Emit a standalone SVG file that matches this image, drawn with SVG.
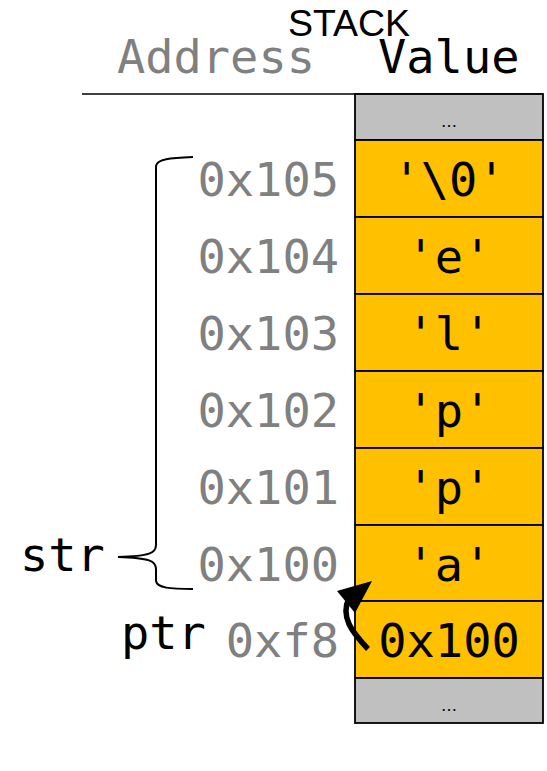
<svg xmlns="http://www.w3.org/2000/svg" width="547" height="771" viewBox="0 0 547 771">
<style>
.cell{fill:#ffc000;stroke:#000;stroke-width:1.8}
.gray{fill:#c0c0c0;stroke:#000;stroke-width:1.8}
.mono{font-family:"DejaVu Sans Mono",monospace;font-size:47px}
.addr{fill:#808080;text-anchor:end}
.val{fill:#000;text-anchor:middle}
.dots{font-family:"DejaVu Sans",sans-serif;font-size:16px;text-anchor:middle}
.conn{fill:none;stroke:#000}
</style>
<rect width="547" height="771" fill="#fff"/>
<g id="header">
<text x="349" y="36" font-family="Liberation Sans,Arial,sans-serif" font-size="37.5" text-anchor="middle">STACK</text>
<text class="mono addr" x="315" y="73">Address</text>
<text class="mono" x="378" y="73" fill="#000">Value</text>
<line x1="82" y1="94" x2="543" y2="94" stroke="#000" stroke-width="1.5"/>
</g>
<g id="top-gap"><rect class="gray" x="355" y="94" width="188" height="46"/><text class="dots" x="449" y="127">…</text></g>
<g id="row-0x105"><rect class="cell" x="355" y="140" width="188" height="77"/><text class="mono addr" x="339" y="196">0x105</text><text class="mono val" x="449" y="196">'\0'</text></g>
<g id="row-0x104"><rect class="cell" x="355" y="217" width="188" height="77"/><text class="mono addr" x="339" y="273">0x104</text><text class="mono val" x="449" y="273">'e'</text></g>
<g id="row-0x103"><rect class="cell" x="355" y="294" width="188" height="77"/><text class="mono addr" x="339" y="350">0x103</text><text class="mono val" x="449" y="350">'l'</text></g>
<g id="row-0x102"><rect class="cell" x="355" y="371" width="188" height="77"/><text class="mono addr" x="339" y="427">0x102</text><text class="mono val" x="449" y="427">'p'</text></g>
<g id="row-0x101"><rect class="cell" x="355" y="448" width="188" height="77"/><text class="mono addr" x="339" y="504">0x101</text><text class="mono val" x="449" y="504">'p'</text></g>
<g id="row-0x100"><rect class="cell" x="355" y="525" width="188" height="76"/><text class="mono addr" x="339" y="581">0x100</text><text class="mono val" x="449" y="581">'a'</text></g>
<g id="row-0xf8"><rect class="cell" x="355" y="601" width="188" height="77"/><text class="mono addr" x="339" y="657">0xf8</text><text class="mono val" x="449" y="657">0x100</text></g>
<g id="bottom-gap"><rect class="gray" x="355" y="678" width="188" height="45"/><text class="dots" x="449" y="711">…</text></g>
<g id="str-label"><text class="mono" x="20" y="571">str</text></g>
<g id="ptr-label"><text class="mono" x="121" y="649">ptr</text></g>
<g id="connectors">
<path class="conn" stroke-width="2" d="M193,157 C170,158 157,159 156,166 L156,545 C156,553 150,556 118,557 C150,558 156,561 156,569 L156,581 C157,588 170,589 193,589"/>
<path class="conn" stroke-width="5.5" d="M368,649 C352,632 340,617 349,598"/>
<polygon points="372,581 337,591 355,613" fill="#000"/>
</g>
</svg>
